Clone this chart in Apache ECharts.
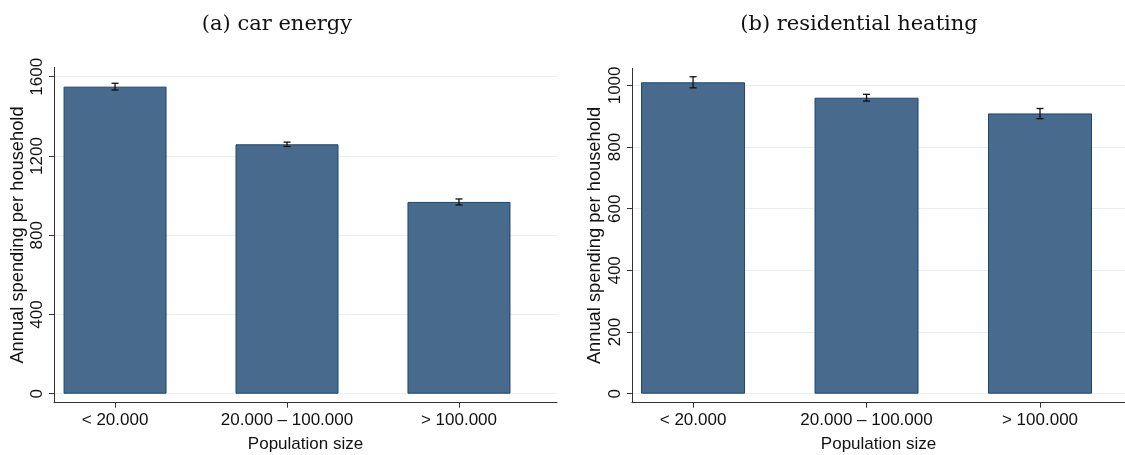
<!DOCTYPE html>
<html>
<head>
<meta charset="utf-8">
<script src="https://cdn.jsdelivr.net/npm/echarts@6/dist/echarts.min.js"></script>
<style>
html,body{margin:0;padding:0;background:#fff;}
#chart{width:1125px;height:455px;}
</style>
</head>
<body>
<div id="chart"></div>
<script>
// ---- data ----
const categories = ['< 20.000', '20.000 \u2013 100.000', '> 100.000'];
const carEnergy = [1550, 1259, 968];
const carLow = [1533, 1248, 953];
const carHigh = [1567, 1270, 983];
const heating = [1010, 960, 909];
const heatingLow = [992, 949, 892];
const heatingHigh = [1028, 971, 925];
const carTicks = [0, 400, 800, 1200, 1600];
const heatTicks = [0, 200, 400, 600, 800, 1000];
const titles = ['(a) car energy', '(b) residential heating'];
const xName = 'Population size';
const yName = 'Annual spending per household';

// ---- styling ----
const barFill = '#486a8c';
const barEdge = '#1a476f';
const axisColor = '#333';
const textColor = '#111';
const sans = 'Liberation Sans, Arial, sans-serif';

const positions = categories.map((c, i) => i + 1);

function xAxisOf(gridIndex, min, max) {
  return {
    type: 'value', gridIndex: gridIndex, min: min, max: max,
    name: xName, nameLocation: 'middle', nameGap: 33, nameMoveOverlap: false,
    nameTextStyle: {fontFamily: sans, fontSize: 17, color: textColor},
    axisLine: {show: true, onZero: false, lineStyle: {color: axisColor, width: 1}},
    axisTick: {show: true, customValues: positions, length: 5, lineStyle: {color: axisColor}},
    axisLabel: {customValues: positions, margin: 9, fontFamily: sans, fontSize: 17, color: textColor,
      formatter: v => categories[Math.round(v) - 1] || ''},
    splitLine: {show: false}
  };
}
function yAxisOf(gridIndex, min, max, ticks, gap) {
  return {
    type: 'value', gridIndex: gridIndex, min: min, max: max,
    name: yName, nameLocation: 'middle', nameGap: gap, nameMoveOverlap: false,
    nameTextStyle: {fontFamily: sans, fontSize: 18.3, color: textColor},
    axisLine: {show: true, onZero: false, lineStyle: {color: axisColor, width: 1}},
    axisTick: {show: true, customValues: ticks, length: 5, lineStyle: {color: axisColor}},
    axisLabel: {customValues: ticks, rotate: 90, margin: 8, fontFamily: sans, fontSize: 17, color: textColor,
      formatter: v => String(Math.round(v))},
    splitLine: {show: true, lineStyle: {color: '#e8f0f2', width: 1}}
  };
}
function errorSeries(idx, low, high) {
  return {
    type: 'custom', xAxisIndex: idx, yAxisIndex: idx, z: 5,
    data: positions.map((p, i) => [p, low[i], high[i]]),
    encode: {x: 0, y: [1, 2]},
    renderItem: function (params, api) {
      const x = api.value(0);
      const lo = api.coord([x, api.value(1)]);
      const hi = api.coord([x, api.value(2)]);
      const hw = 3.5;
      const st = {stroke: '#111', lineWidth: 1.3};
      return {
        type: 'group', children: [
          {type: 'line', shape: {x1: lo[0], y1: lo[1], x2: hi[0], y2: hi[1]}, style: st},
          {type: 'line', shape: {x1: lo[0] - hw, y1: lo[1], x2: lo[0] + hw, y2: lo[1]}, style: st},
          {type: 'line', shape: {x1: hi[0] - hw, y1: hi[1], x2: hi[0] + hw, y2: hi[1]}, style: st}
        ]
      };
    }
  };
}
function barSeries(idx, values, width) {
  return {
    type: 'bar', xAxisIndex: idx, yAxisIndex: idx, barWidth: width,
    data: positions.map((p, i) => [p, values[i]]),
    itemStyle: {color: barFill, borderColor: barEdge, borderWidth: 1},
    emphasis: {disabled: true}
  };
}

const chart = echarts.init(document.getElementById('chart'), null, {renderer: 'canvas'});
chart.setOption({
  animation: false,
  backgroundColor: '#ffffff',
  title: [
    {text: titles[0], left: 272, top: 9, textAlign: 'center',
      textStyle: {fontFamily: 'DejaVu Serif', fontWeight: 'normal', fontSize: 21, color: '#111'}},
    {text: titles[1], left: 854, top: 9, textAlign: 'center',
      textStyle: {fontFamily: 'DejaVu Serif', fontWeight: 'normal', fontSize: 21, color: '#111'}}
  ],
  grid: [
    {left: 54, top: 67.3, width: 503, bottom: 52.3, outerBoundsMode: 'none', containLabel: false},
    {left: 632, top: 68.3, right: 0, bottom: 52.3, outerBoundsMode: 'none', containLabel: false}
  ],
  xAxis: [xAxisOf(0, 0.645, 3.57), xAxisOf(1, 0.648, 3.49)],
  yAxis: [yAxisOf(0, -45.4, 1647.6, carTicks, 27), yAxisOf(1, -29.2, 1055.4, heatTicks, 28)],
  series: [
    barSeries(0, carEnergy, 103),
    barSeries(1, heating, 104),
    errorSeries(0, carLow, carHigh),
    errorSeries(1, heatingLow, heatingHigh)
  ]
});
</script>
</body>
</html>
